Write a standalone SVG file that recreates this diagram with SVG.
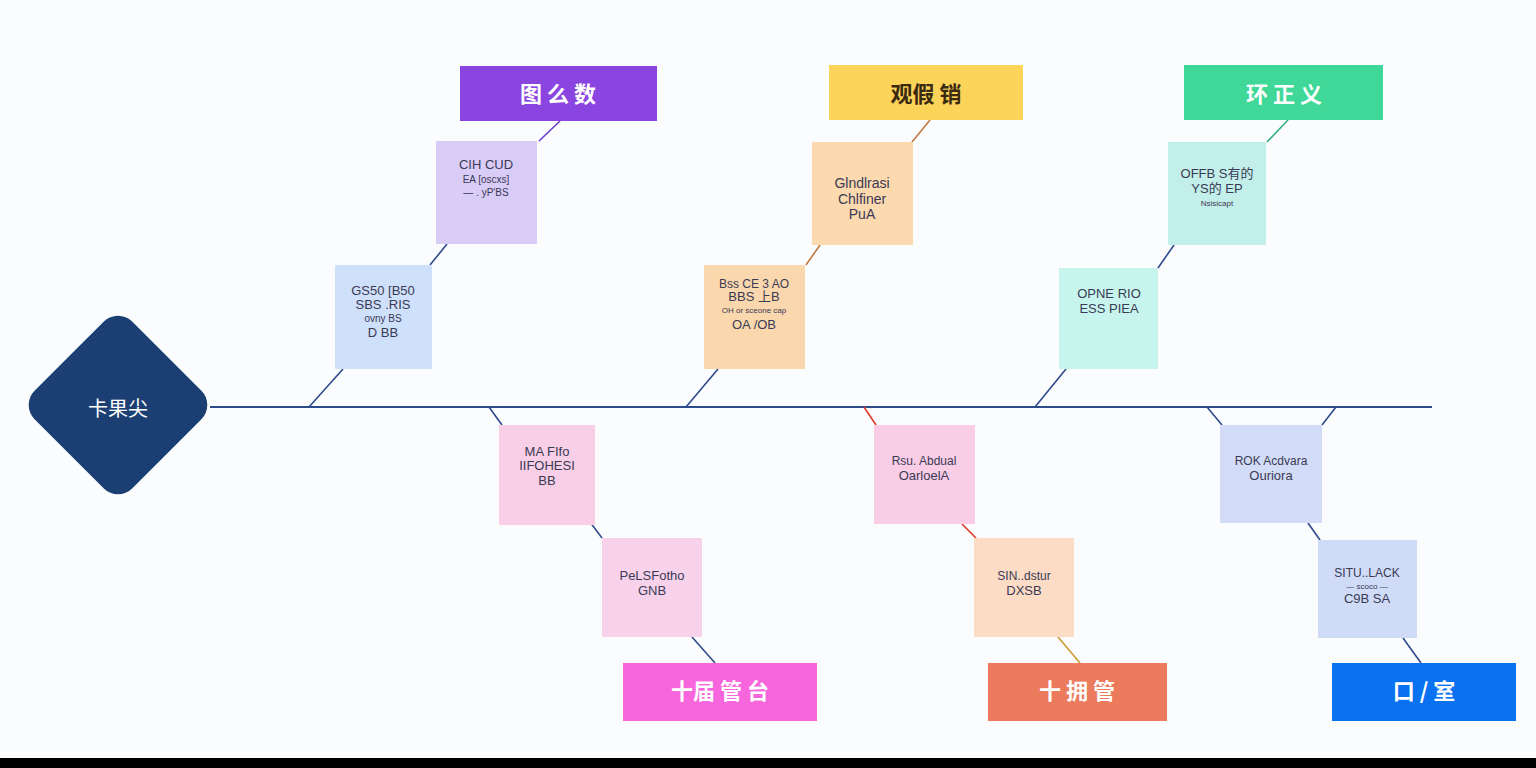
<svg xmlns="http://www.w3.org/2000/svg" width="1536" height="768" viewBox="0 0 1536 768">
<style>
.t{font-family:"Liberation Sans","Noto Sans CJK SC",sans-serif;text-anchor:middle;font-size:13px;fill:#3a3a55}
.s{font-size:10px}
.xs{font-size:8px}
.m{font-size:12px}
.l{font-size:14px}
.h{font-family:"Noto Sans CJK SC","Liberation Sans",sans-serif;text-anchor:middle;font-size:22px;font-weight:bold;fill:#fff}
.c{stroke-width:1.6;fill:none}
</style>
<rect width="1536" height="768" fill="#fbfcfe"/>
<rect y="758" width="1536" height="10" fill="#000"/>
<g id="connectors">
<line x1="210" y1="407" x2="1432" y2="407" stroke="#2d4a8a" stroke-width="2"/>
<g class="c" stroke="#2d4a8a">
<line x1="309" y1="407" x2="343" y2="369"/><line x1="430" y1="265" x2="447" y2="244"/>
<line x1="686" y1="407" x2="718" y2="369"/>
<line x1="1035" y1="407" x2="1066" y2="369"/><line x1="1158" y1="268" x2="1174" y2="245"/>
<line x1="489" y1="407" x2="502" y2="425"/><line x1="590" y1="522" x2="602" y2="538"/><line x1="692" y1="637" x2="715" y2="663"/>
<line x1="1207" y1="407" x2="1222" y2="425"/><line x1="1336" y1="407" x2="1322" y2="425"/><line x1="1308" y1="523" x2="1320" y2="540"/><line x1="1403" y1="638" x2="1421" y2="663"/>
</g>
<line class="c" stroke="#6a3fc9" x1="539" y1="141" x2="560" y2="121"/>
<line class="c" stroke="#c07a40" x1="806" y1="265" x2="820" y2="245"/>
<line class="c" stroke="#c07a40" x1="912" y1="142" x2="930" y2="120"/>
<line class="c" stroke="#2fb080" x1="1267" y1="142" x2="1288" y2="120"/>
<line class="c" stroke="#e03a2a" x1="864" y1="407" x2="876" y2="425"/>
<line class="c" stroke="#e03a2a" x1="962" y1="524" x2="976" y2="538"/>
<line class="c" stroke="#c89a30" x1="1058" y1="637" x2="1080" y2="663"/>
</g>
<g id="root"><rect x="49" y="336" width="138" height="138" rx="20" transform="rotate(45 118 405)" fill="#1b3f73"/><text class="h" x="118" y="416" style="font-weight:normal;font-size:20px">卡果尖</text></g>
<g id="h1"><rect x="460" y="66" width="197" height="55" fill="#8a45e0"/><text class="h" x="558" y="102">图 么 数</text></g>
<g id="n1a"><rect x="436" y="141" width="101" height="103" fill="#d9ccf7"/><text class="t" x="486" y="169">CIH  CUD</text><text class="t s" x="486" y="183">EA  [oscxs]</text><text class="t s" x="486" y="196">— . yP'BS</text></g>
<g id="n1b"><rect x="335" y="265" width="97" height="104" fill="#cfe0fa"/><text class="t" x="383" y="295">GS50 [B50</text><text class="t" x="383" y="309">SBS .RIS</text><text class="t s" x="383" y="322">ovny  BS</text><text class="t" x="383" y="337">D BB</text></g>
<g id="h2"><rect x="829" y="65" width="194" height="55" fill="#fcd45a"/><text class="h" x="926" y="102" style="fill:#3a2a10">观假 销</text></g>
<g id="n2a"><rect x="812" y="142" width="101" height="103" fill="#fcd9ae"/><text class="t l" x="862" y="188">Glndlrasi</text><text class="t l" x="862" y="204">Chlfiner</text><text class="t l" x="862" y="219">PuA</text></g>
<g id="n2b"><rect x="704" y="265" width="101" height="104" fill="#fbd7ad"/><text class="t m" x="754" y="288">Bss CE 3 AO</text><text class="t" x="754" y="301">BBS 上B</text><text class="t xs" x="754" y="313">OH or sceone cap</text><text class="t" x="754" y="329">OA /OB</text></g>
<g id="h3"><rect x="1184" y="65" width="199" height="55" fill="#3fd898"/><text class="h" x="1284" y="102">环 正 义</text></g>
<g id="n3a"><rect x="1168" y="142" width="98" height="103" fill="#c2efe9"/><text class="t" x="1217" y="178">OFFB S有的</text><text class="t" x="1217" y="193">YS的 EP</text><text class="t xs" x="1217" y="206">Nsisicapt</text></g>
<g id="n3b"><rect x="1059" y="268" width="99" height="101" fill="#c7f5ee"/><text class="t" x="1109" y="298">OPNE RIO</text><text class="t" x="1109" y="313">ESS PIEA</text></g>
<g id="n4a"><rect x="499" y="425" width="96" height="100" fill="#f8cfe6"/><text class="t" x="547" y="456">MA FIfo</text><text class="t" x="547" y="470">IIFOHESI</text><text class="t" x="547" y="485">BB</text></g>
<g id="n4b"><rect x="602" y="538" width="100" height="99" fill="#f8d2eb"/><text class="t" x="652" y="580">PeLSFotho</text><text class="t" x="652" y="595">GNB</text></g>
<g id="h4"><rect x="623" y="663" width="194" height="58" fill="#f766dc"/><text class="h" x="720" y="699">十届 管 台</text></g>
<g id="n5a"><rect x="874" y="425" width="101" height="99" fill="#f8cde5"/><text class="t m" x="924" y="465">Rsu. Abdual</text><text class="t" x="924" y="480">OarloelA</text></g>
<g id="n5b"><rect x="974" y="538" width="100" height="99" fill="#fcdcc5"/><text class="t m" x="1024" y="580">SIN..dstur</text><text class="t" x="1024" y="595">DXSB</text></g>
<g id="h5"><rect x="988" y="663" width="179" height="58" fill="#ec7a5d"/><text class="h" x="1077" y="699">十 拥 管</text></g>
<g id="n6a"><rect x="1220" y="425" width="102" height="98" fill="#d3dcf7"/><text class="t m" x="1271" y="465">ROK Acdvara</text><text class="t" x="1271" y="480">Ouriora</text></g>
<g id="n6b"><rect x="1318" y="540" width="99" height="98" fill="#d0dcf7"/><text class="t m" x="1367" y="577">SITU..LACK</text><text class="t xs" x="1367" y="589">— scoco —</text><text class="t" x="1367" y="603">C9B SA</text></g>
<g id="h6"><rect x="1332" y="663" width="184" height="58" fill="#0a72f0"/><text class="h" x="1424" y="699">口 / 室</text></g>
</svg>
